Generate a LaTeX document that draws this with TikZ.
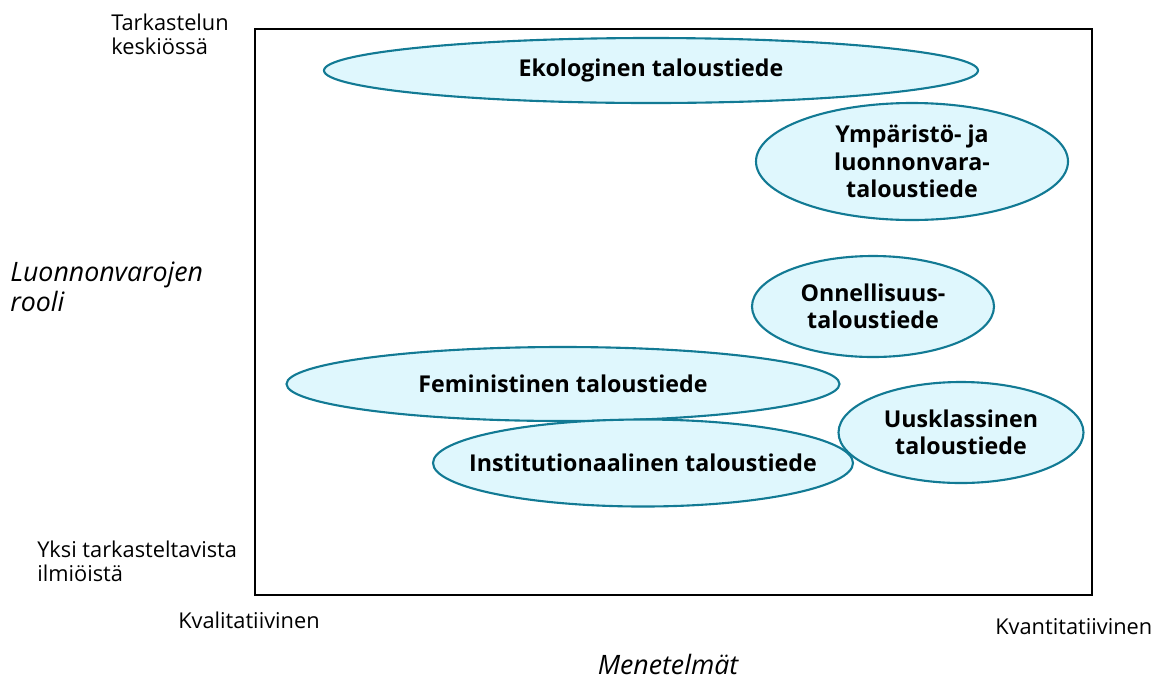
\documentclass[tikz,border=0pt]{standalone}
\usepackage{fontspec}
\setmainfont{Open Sans}
\usetikzlibrary{shapes,positioning}
\definecolor{ovalfill}{RGB}{223,247,253}
\definecolor{ovaldraw}{RGB}{18,122,148}

\begin{document}
\begin{tikzpicture}[x=0.025cm, y=-0.025cm, oval/.style 2 args={ellipse,draw=ovaldraw,fill=ovalfill,line width=1.5pt,minimum width=#1*0.025cm,minimum height=#2*0.025cm,inner sep=0pt},
oval text/.style={font=\fontsize{16.5}{19.5}\selectfont\bfseries,align=center,inner sep=0pt},
side text/.style={font=\fontsize{15.5}{17}\selectfont,align=left,anchor=west,inner sep=0pt},
axis text/.style={font=\fontsize{19}{21.5}\selectfont\itshape,align=left,inner sep=0pt}]
\useasboundingbox (0,0) rectangle (1164,680);
\draw[line width=1.4pt] (255,29) rectangle (1092,595);
%ellipses
\begin{scope}
\node[oval={654}{65}] (eko) at (651,70.5) {};
\node[oval={312}{117}] (ymp) at (912,161.5) {};
\node[oval={242}{101}] (onn) at (873,306.5) {};
\node[oval={553}{74}] (fem) at (563,384) {};
\node[oval={245}{101}] (uus) at (961,432.5) {};
\node[oval={420}{87}] (ins) at (643,463) {};
\end{scope}
\begin{scope}[every node/.style={oval text}]
\node (ekoT) at (eko) {Ekologinen taloustiede};
\node (ympT) at (ymp) {Ympäristö- ja\\luonnonvara-\\taloustiede};
\node (onnT) at (onn) {Onnellisuus-\\taloustiede};
\node (femT) at (fem) {Feministinen taloustiede};
\node (uusT) at (uus) {Uusklassinen\\taloustiede};
\node (insT) at (ins) {Institutionaalinen taloustiede};
\end{scope}
%axis texts
\node[side text] (top) at (111,34) {Tarkastelun\\keskiössä};
\node[side text] (bottom) at (37,561) {Yksi tarkasteltavista\\ilmiöistä};
\node[side text] (left) at (178,620) {Kvalitatiivinen};
\node[side text] (right) at (995,627) {Kvantitatiivinen};
\node[axis text,anchor=west] (yaxis) at (10,287) {Luonnonvarojen\\rooli};
\node[axis text] (xaxis) at (668,664) {Menetelmät};
\end{tikzpicture}
\end{document}
